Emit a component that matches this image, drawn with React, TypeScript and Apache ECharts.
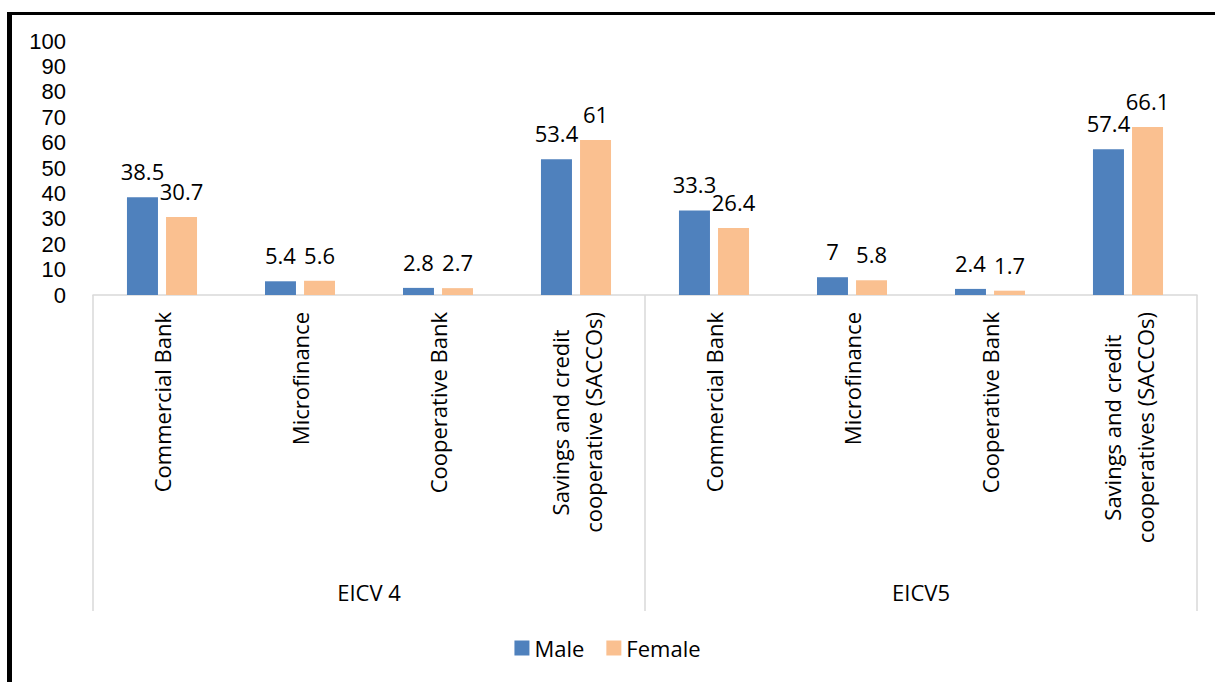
import React, { useEffect, useRef } from "react";
import * as echarts from "echarts";

const categories = [
  "Commercial Bank",
  "Microfinance",
  "Cooperative Bank",
  "Savings and credit\ncooperative (SACCOs)",
  "Commercial Bank",
  "Microfinance",
  "Cooperative Bank",
  "Savings and credit\ncooperatives (SACCOs)",
];
const groups = ["EICV 4", "EICV5"];
const maleValues = [38.5, 5.4, 2.8, 53.4, 33.3, 7, 2.4, 57.4];
const femaleValues = [30.7, 5.6, 2.7, 61, 26.4, 5.8, 1.7, 66.1];
const seriesNames = ["Male", "Female"];

const FONT = "'Open Sans', sans-serif";
const FS = 22;

export default function App() {
  const ref = useRef<HTMLDivElement>(null);
  useEffect(() => {
    if (!ref.current) return;
    const chart = echarts.init(ref.current, undefined, { renderer: "svg" });
    const labelCommon = {
      show: true,
      position: "top" as const,
      distance: 15,
      color: "#000",
      fontFamily: FONT,
      fontSize: FS,
      lineHeight: 22,
    };
    chart.setOption({
      animation: false,
      textStyle: { fontFamily: FONT },
      grid: { left: 93, right: 18, top: 41, bottom: 387, containLabel: false },
      legend: {
        data: seriesNames,
        bottom: 18,
        left: "center",
        itemWidth: 15,
        itemHeight: 15,
        itemGap: 22,
        icon: "rect",
        textStyle: { fontFamily: FONT, fontSize: FS, color: "#000" },
      },
      xAxis: [
        {
          type: "category",
          data: categories,
          position: "bottom",
          axisLine: { show: true, lineStyle: { color: "#d9d9d9", width: 1.5 } },
          axisTick: { show: false },
          axisLabel: {
            interval: 0,
            rotate: 90,
            margin: 17,
            color: "#000",
            fontFamily: FONT,
            fontSize: FS,
            formatter: (v: string) =>
              v
                .split("\n")
                .map((s) => "{c|" + s + "}")
                .join("\n"),
            rich: {
              c: {
                align: "center",
                fontFamily: FONT,
                fontSize: FS,
                color: "#000",
                lineHeight: 33,
              },
            },
          },
        },
        {
          type: "category",
          data: groups,
          position: "bottom",
          boundaryGap: true,
          axisLine: { show: false },
          axisTick: {
            show: true,
            interval: 0,
            length: 316,
            lineStyle: { color: "#d9d9d9", width: 1.5 },
          },
          axisLabel: {
            interval: 0,
            margin: 286,
            color: "#000",
            fontFamily: FONT,
            fontSize: FS,
          },
        },
      ],
      yAxis: {
        type: "value",
        min: 0,
        max: 100,
        interval: 10,
        axisLine: { show: false },
        axisTick: { show: false },
        splitLine: { show: false },
        axisLabel: {
          margin: 27,
          color: "#000",
          fontFamily: "'Liberation Sans', sans-serif",
          fontSize: 22,
          lineHeight: 22,
        },
      },
      series: [
        {
          name: seriesNames[0],
          type: "bar",
          xAxisIndex: 0,
          data: maleValues,
          barWidth: 31,
          barGap: "26%",
          itemStyle: { color: "#4F81BD" },
          label: labelCommon,
        },
        {
          name: seriesNames[1],
          type: "bar",
          xAxisIndex: 0,
          data: femaleValues,
          barWidth: 31,
          barGap: "26%",
          itemStyle: { color: "#FAC090" },
          label: labelCommon,
        },
      ],
      graphic: [
        {
          type: "rect",
          shape: { x: 7, y: 12, width: 5, height: 680 },
          style: { fill: "#000" },
          silent: true,
        },
        {
          type: "rect",
          shape: { x: 7, y: 12, width: 1220, height: 3 },
          style: { fill: "#000" },
          silent: true,
        },
      ],
    });
    return () => chart.dispose();
  }, []);
  return (
    <div
      ref={ref}
      style={{
        position: "fixed",
        left: 0,
        top: 0,
        width: 1215,
        height: 682,
        background: "#fff",
      }}
    />
  );
}
